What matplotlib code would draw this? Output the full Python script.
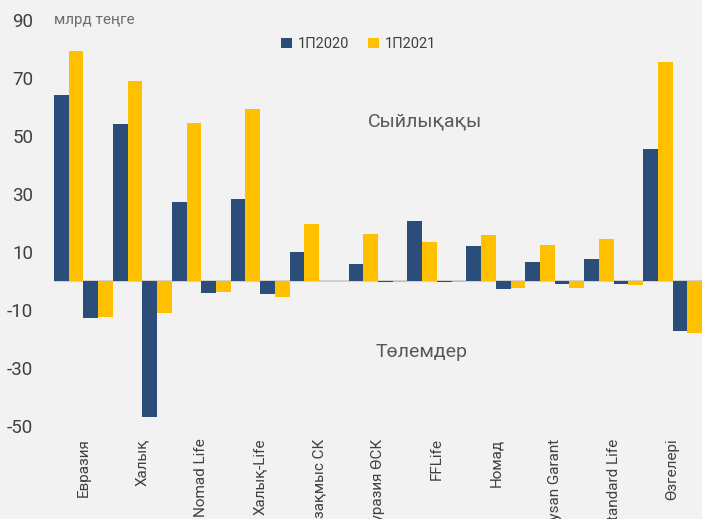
import numpy as np
import matplotlib
matplotlib.use("Agg")
import matplotlib.pyplot as plt

plt.rcParams['font.family'] = ['Liberation Sans Narrow', 'Roboto', 'DejaVu Sans']

# Insurers (Kazakh labels)
companies = ["Евразия", "Халық", "Nomad Life", "Халық-Life", "Қазақмыс СК",
             "Еуразия ӨСК", "FFLife", "Номад", "Jysan Garant", "Standard Life",
             "Өзгелері"]

# Premiums, bn tenge
prem_2020 = [64, 54, 27.2, 28.3, 10, 5.8, 20.7, 12, 6.5, 7.6, 45.4]
prem_2021 = [79.4, 69, 54.5, 59.4, 19.5, 16.1, 13.4, 16, 12.5, 14.4, 75.5]

# Payments, bn tenge
pay_2020 = [-12.6, -46.8, -4.0, -4.6, -0.1, -0.2, -0.3, -2.6, -0.9, -0.9, -17.1]
pay_2021 = [-12.5, -10.9, -3.7, -5.4, -0.1, -0.5, -0.5, -2.4, -2.3, -1.4, -18.0]

yticks = [90, 70, 50, 30, 10, -10, -30, -50]

blue = "#2a4d7a"
yellow = "#ffc000"
bg = "#f2f2f2"

fig = plt.figure(figsize=(7.02, 5.19), dpi=100, facecolor=bg)
ax = fig.add_axes([54 / 702, 1 - 426 / 519, 1 - 54 / 702, (426 - 20) / 519])
ax.set_facecolor(bg)

x = np.arange(len(companies))
w = 0.25
ax.bar(x - 1.5 * w, prem_2020, w, color=blue, label="1П2020")
ax.bar(x - 0.5 * w, prem_2021, w, color=yellow, label="1П2021")
ax.bar(x + 0.5 * w, pay_2020, w, color=blue)
ax.bar(x + 1.5 * w, pay_2021, w, color=yellow)

ax.axhline(0, color="#d0d0d0", lw=1.5, zorder=0.5)

ax.set_xlim(-0.5, len(companies) - 0.5)
ax.set_ylim(-50, 90)
ax.set_yticks(yticks)
ax.set_yticklabels([str(v) for v in yticks], fontsize=13.5, color="#404040")
ax.set_xticks(x)
ax.set_xticklabels(companies, rotation=90, fontsize=11, color="#404040")
ax.tick_params(axis="both", length=0)
ax.tick_params(axis="y", pad=15)
ax.tick_params(axis="x", pad=9)
for s in ax.spines.values():
    s.set_visible(False)

fig.text(54 / 702, 1 - 20 / 519, "млрд теңге", fontsize=11, color="#6d6d6d", va="center")
fig.text(425 / 702, 1 - 122 / 519, "Сыйлықақы", fontsize=14, color="#595959",
         ha="center", va="center")
fig.text(422 / 702, 1 - 352 / 519, "Төлемдер", fontsize=14, color="#595959",
         ha="center", va="center")

ax.legend(loc="upper center", bbox_to_anchor=(359 / 702, 1 - 24 / 519),
          bbox_transform=fig.transFigure, ncol=2, frameon=False, fontsize=10.5,
          handlelength=0.75, handleheight=0.75, handletextpad=0.4, columnspacing=1.3,
          labelcolor="#404040")

plt.savefig("out.png", dpi=100, facecolor=bg)
